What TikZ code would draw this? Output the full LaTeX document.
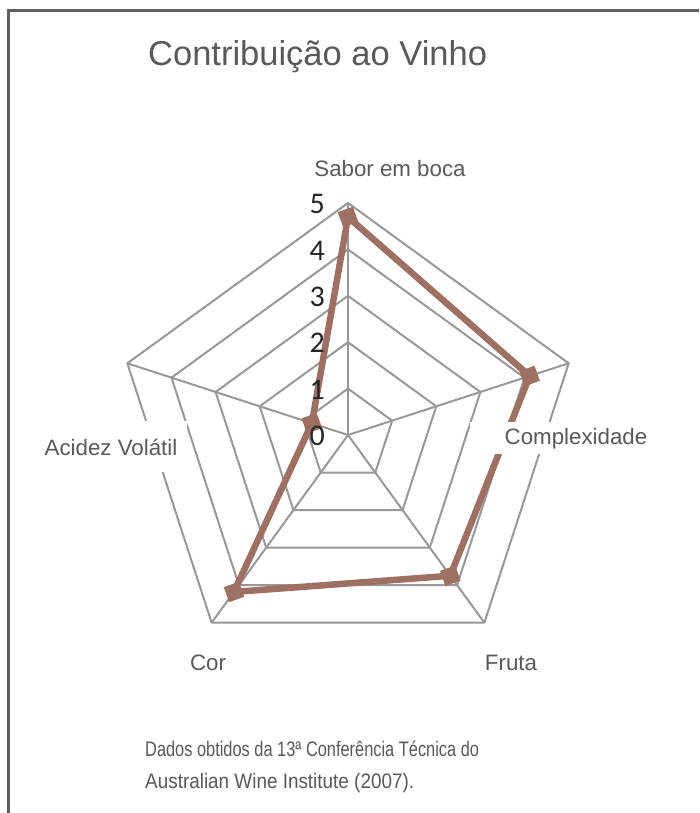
\documentclass[tikz,border=0pt]{standalone}
\usepackage{graphicx}
\usepackage{fontspec}
\setmainfont{Liberation Sans}
\newfontfamily\numfont{Carlito}
\definecolor{gridgray}{RGB}{152,152,152}
\definecolor{textgray}{RGB}{89,89,89}
\definecolor{framegray}{RGB}{95,95,95}
\definecolor{wine}{RGB}{158,112,100}

\begin{document}
\begin{tikzpicture}[x=1pt,y=-1pt,
    grid/.style={draw=gridgray,line width=2pt},
    series/.style={draw=wine,line width=6.5pt,line join=round},
    marker/.style={fill=wine,minimum size=16pt,inner sep=0pt,rotate=20},
    axislabel/.style={fill=white,text=textgray,anchor=base,inner sep=0pt,
        font=\fontsize{22.3}{26}\selectfont},
    tick/.style={anchor=east,inner sep=0pt,text=black!85,
        font=\numfont\fontsize{30}{32}\selectfont},
    notes/.style={anchor=base west,inner sep=0pt,text=textgray,align=left}]
    \useasboundingbox (0,0) rectangle (699,813);
    \fill[white] (0,0) rectangle (699,813);
    \draw[framegray,line width=2.4pt] (8.5,813) -- (8.5,10.5) -- (699,10.5);

    \node[notes,font=\fontsize{34.5}{38}\selectfont] (title) at (148,66) {Contribuição ao Vinho};

    \begin{scope}[shift={(348,435)}]
        \coordinate (c) at (0,0);
        % grid
        \foreach \k in {1,...,5} {
            \pgfmathsetmacro\r{\k*46.4}
            \draw[grid] (-90:\r) -- (-18:\r) -- (54:\r) -- (126:\r) -- (198:\r) -- cycle;
        }
        \foreach \a/\n in {-90/sabor,-18/compl,54/fruta,126/cor,198/acidez} {
            \coordinate (\n) at (\a:232);
            \draw[grid] (c) -- (\n);
        }
        % data
        \coordinate (vsabor) at (-90:218);
        \coordinate (vcompl) at (-18:191);
        \coordinate (vfruta) at (54:174);
        \coordinate (vcor) at (126:194);
        \coordinate (vacidez) at (198:38);
        \draw[series] (vsabor) -- (vcompl) -- (vfruta) -- (vcor) -- (vacidez) -- cycle;
        \foreach \n in {vsabor,vcompl,vfruta,vcor,vacidez}
            \node[marker] (m\n) at (\n) {};
    \end{scope}

    \node[axislabel] (lsabor) at (390,176) {Sabor em boca};
    \node[axislabel,minimum width=212pt,minimum height=32pt] (lcompl) at (576,444) {Complexidade};
    \node[axislabel] (lfruta) at (511,670) {Fruta};
    \node[axislabel] (lcor) at (208,670) {Cor};
    \node[axislabel,minimum width=152pt,minimum height=51pt] (lacidez) at (111,455) {Acidez Volátil};

    \foreach \k in {0,...,5}
        \node[tick] (t\k) at (325,{435-\k*46.4+1}) {\k};

    \node[notes,font=\fontsize{21}{32}\selectfont] (source) at (145,788)
        {\scalebox{0.78}[1]{Dados obtidos da 13ª Conferência Técnica do}\\
         \scalebox{0.9}[1]{Australian Wine Institute (2007).}};
\end{tikzpicture}
\end{document}
